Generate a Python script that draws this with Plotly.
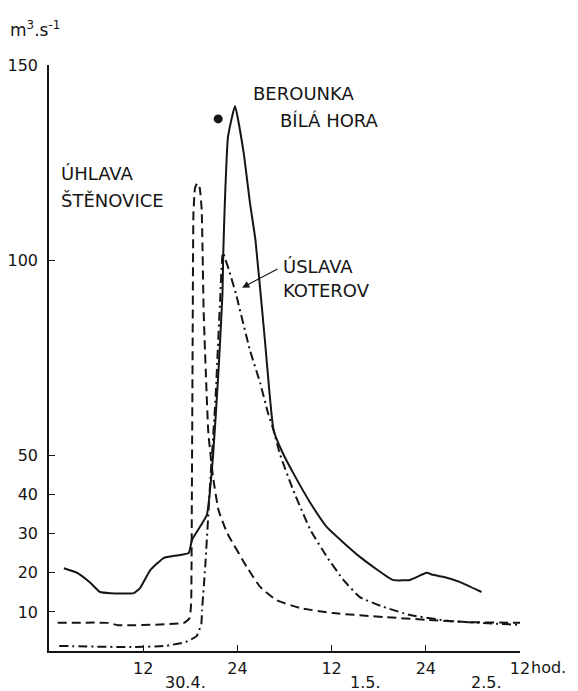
import plotly.graph_objects as go

# time in hours from 30.4. 0:00 ; discharge in m3/s
berounka_t = [1.9, 3.6, 5.3, 6.5, 7.8, 10.8, 11.6, 12.9, 14.6, 17.8, 18.2, 20.1, 20.9, 21.6, 22.1, 22.2, 22.4,
              22.8, 23.7, 24.8, 25.6, 26.3, 27.5, 28.6, 29.7, 31.1, 33.3, 35.4, 39.6, 43.8, 46.0, 48.1, 48.9,
              50.2, 52.3, 55.1]
berounka_q = [21.2, 20.0, 17.4, 15.1, 14.8, 14.8, 16.1, 20.7, 23.8, 25.1, 28.4, 34.8, 50.0, 72.0, 91.6, 101.9, 114.7,
              131.6, 139.5, 127.5, 114.7, 105.2, 79.6, 56.6, 51.0, 45.6, 37.9, 31.7, 24.1, 18.2, 18.2, 20.0, 19.5,
              19.0, 17.7, 15.1]

uhlava_t = [1.1, 7.6, 8.8, 17.2, 17.9, 18.1, 18.2, 18.3, 18.4, 18.6, 18.9, 19.2, 19.45, 19.7, 20.0, 20.3,
            20.9, 21.6, 22.7, 25.2, 26.9, 29.0, 32.0, 36.2, 42.6, 48.0, 53.2, 60.0]
uhlava_q = [7.2, 7.2, 6.6, 7.2, 8.4, 12.0, 40.0, 80.0, 112.0, 118.5, 119.8, 118.5, 113.0, 87.0, 70.0, 55.8,
            44.5, 36.0, 30.2, 21.5, 16.4, 13.0, 11.0, 9.7, 8.7, 8.0, 7.4, 7.2]

uslava_t = [1.3, 10.5, 14.8, 17.4, 18.8, 19.4, 19.5, 19.9, 20.5, 21.2, 21.8, 22.15, 23.0, 23.8, 25.6, 26.9,
            27.9, 28.6, 29.4, 31.1, 33.3, 35.4, 37.5, 39.6, 42.6, 46.0, 51.0, 60.0]
uslava_q = [1.3, 1.0, 1.3, 2.3, 3.8, 6.9, 10.5, 21.5, 42.0, 64.2, 89.8, 101.9, 97.0, 91.5, 77.0, 68.6,
            60.9, 56.6, 50.5, 41.2, 31.0, 24.1, 18.2, 13.8, 11.3, 9.2, 7.7, 6.7]

blot_t = [21.55]
blot_q = [136.2]

x_tickvals = [12, 24, 36, 48, 60]
x_ticktext = ["12", "24", "12", "24", "12"]
y_tickvals = [10, 20, 30, 40, 50, 100, 150]
date_labels = ["30.4.", "1.5.", "2.5."]
date_xpaper = [0.289, 0.673, 0.928]

INK = "#151515"
FONT = "DejaVu Sans"

fig = go.Figure()
fig.add_trace(go.Scatter(x=berounka_t, y=berounka_q, mode="lines",
                         line=dict(color=INK, width=2, shape="spline", smoothing=0.4)))
fig.add_trace(go.Scatter(x=uhlava_t, y=uhlava_q, mode="lines",
                         line=dict(color=INK, width=2, dash="9px,5px", shape="spline", smoothing=0.4)))
fig.add_trace(go.Scatter(x=uslava_t, y=uslava_q, mode="lines",
                         line=dict(color=INK, width=2, dash="9px,4px,2px,4px", shape="spline", smoothing=0.4)))
fig.add_trace(go.Scatter(x=blot_t, y=blot_q, mode="markers",
                         marker=dict(color=INK, size=9, symbol="circle")))

ann = []
def txt(t, x, y, xa="left", size=18, ya="middle", ref="data"):
    xr, yr = ("x", "y") if ref == "data" else ("paper", "paper")
    ann.append(dict(text=t, x=x, y=y, xref=xr, yref=yr, showarrow=False, xanchor=xa, yanchor=ya,
                    font=dict(family=FONT, size=size, color=INK)))

txt("ÚHLAVA", 1.3, 122.3)
txt("ŠTĚNOVICE", 1.3, 115.4)
txt("BEROUNKA", 25.7, 142.8)
txt("BÍLÁ HORA", 29.2, 135.9)
txt("ÚSLAVA", 29.5, 98.3)
txt("KOTEROV", 29.6, 92.4)
txt("hod.", 1.02, -0.029, size=16, ref="paper")
for lab, pos in zip(date_labels, date_xpaper):
    txt(lab, pos, -0.0546, xa="center", size=16, ref="paper")

ann.append(dict(x=24.6, y=93.0, ax=29.3, ay=98.0, xref="x", yref="y", axref="x", ayref="y",
                text="", showarrow=True, arrowhead=2, arrowsize=1.2, arrowwidth=1.2, arrowcolor=INK))
ann.append(dict(text="m<sup>3</sup>.s<sup>-1</sup>", x=-0.087, y=1.040, xref="paper", yref="paper",
                xanchor="left", yanchor="bottom", showarrow=False,
                font=dict(family=FONT, size=17, color=INK)))

fig.update_layout(
    width=570, height=683,
    margin=dict(l=41, r=58, t=57, b=40),
    paper_bgcolor="white", plot_bgcolor="white",
    showlegend=False,
    annotations=ann,
    font=dict(family=FONT, size=16, color=INK),
)
fig.update_xaxes(range=[0, 60], tickvals=x_tickvals, ticktext=x_ticktext, automargin=False,
                 showgrid=False, zeroline=False, showline=True, linecolor=INK, linewidth=1.5,
                 ticks="inside", ticklen=6, tickwidth=1.3, tickcolor=INK,
                 tickfont=dict(family=FONT, size=16, color=INK), ticklabelstandoff=2)
fig.update_yaxes(range=[0, 150], tickvals=y_tickvals, automargin=False,
                 showgrid=False, zeroline=False, showline=True, linecolor=INK, linewidth=1.5,
                 ticks="inside", ticklen=6, tickwidth=1.3, tickcolor=INK,
                 tickfont=dict(family=FONT, size=16, color=INK), ticklabelstandoff=6)

fig.write_html("out.html")
